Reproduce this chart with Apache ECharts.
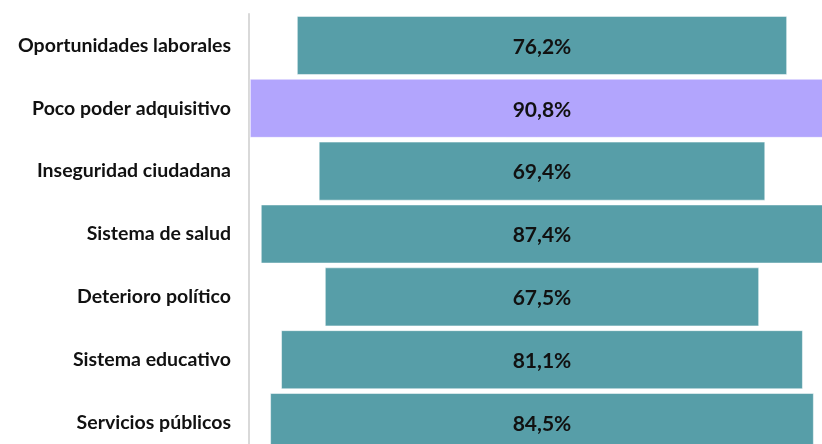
<!DOCTYPE html>
<html>
<head>
<meta charset="utf-8">
<script src="https://cdn.jsdelivr.net/npm/echarts@6/dist/echarts.min.js"></script>
<style>html,body{margin:0;padding:0;background:#fff}#c{width:822px;height:444px}</style>
</head>
<body>
<div id="c"></div>
<script>
const categories = ["Oportunidades laborales","Poco poder adquisitivo","Inseguridad ciudadana","Sistema de salud","Deterioro político","Sistema educativo","Servicios públicos"];
const values = [76.2, 90.8, 69.4, 87.4, 67.5, 81.1, 84.5];
const highlightIndex = 1;

const CENTER = 45.53;
const TEAL = '#579ea8';
const PURPLE = '#b2a5fd';

const chart = echarts.init(document.getElementById('c'), null, {renderer:'canvas'});
chart.setOption({
  animation:false,
  grid:{left:249, top:14, width:643.5, height:440, outerBoundsMode:'none', containLabel:false},
  xAxis:{type:'value', min:0, max:100, show:false},
  yAxis:{type:'category', data:categories, inverse:true,
    axisLine:{show:true, lineStyle:{color:'#d9d9d9', width:2}},
    axisTick:{show:false},
    axisLabel:{margin:18, color:'#111', fontFamily:'Lato', fontWeight:'bold', fontSize:19.5, padding:[3,0,0,0]}
  },
  series:[
    {type:'bar', stack:'s', silent:true, itemStyle:{color:'transparent'},
     data:values.map(v=>CENTER - v/2), barCategoryGap:'6%'},
    {type:'bar', stack:'s', barCategoryGap:'6%',
     data:values.map((v,i)=>({value:v, itemStyle:{color: i===highlightIndex?PURPLE:TEAL}})),
     itemStyle:{borderColor:'rgba(255,255,255,0.5)', borderWidth:1},
     label:{show:true, position:'inside', offset:[0,1.5], color:'#111', fontFamily:'Lato', fontWeight:'bold', fontSize:21,
       formatter:p=>p.value.toFixed(1).replace('.',',')+'%'}
    }
  ]
});
</script>
</body>
</html>
